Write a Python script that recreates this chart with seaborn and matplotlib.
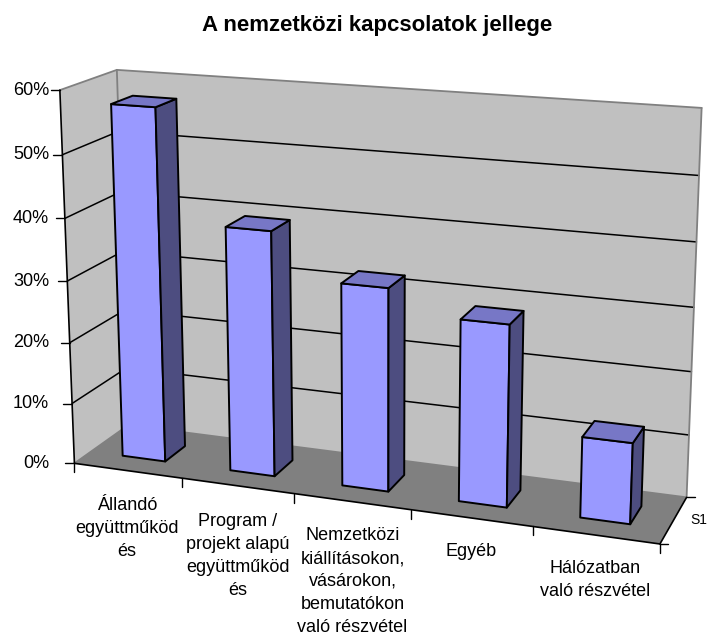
import numpy as np
import pandas as pd
import matplotlib
matplotlib.use("Agg")
import matplotlib.pyplot as plt
from matplotlib.patches import Polygon
import seaborn as sns

title = "A nemzetközi kapcsolatok jellege"
categories = ["Állandó\negyüttműköd\nés", "Program /\nprojekt alapú\negyüttműköd\nés",
              "Nemzetközi\nkiállításokon,\nvásárokon,\nbemutatókon\nvaló részvétel",
              "Egyéb", "Hálózatban\nvaló részvétel"]
values = [57.2, 39.4, 32.3, 28.6, 12.6]
value_ticks = [0, 10, 20, 30, 40, 50, 60]
value_tick_labels = ["0%", "10%", "20%", "30%", "40%", "50%", "60%"]
series_name = "S1"

# camera calibration: (category position, value, depth) -> pixel
calib_world = np.array([[0, 0, 0], [0, 60, 0], [0, 0, 1], [0, 60, 1], [5, 0, 1], [5, 60, 1],
                        [5, 0, 0], [1, 0, 0], [2, 0, 0], [3, 0, 0], [4, 0, 0], [5, 50, 1]], float)
calib_px = np.array([[73.5, 463], [60.7, 90], [129, 425], [116, 70], [686.7, 497.3], [702.3, 107.7],
                     [660, 543], [182.7, 478], [294.3, 494], [411, 510.5], [533, 527], [698.3, 175.7]], float)

def fit_camera(W, X):
    rows = []
    for (a, b, c), (x, y) in zip(W, X):
        rows.append([a, b, c, 1, 0, 0, 0, 0, -x*a, -x*b, -x*c, -x])
        rows.append([0, 0, 0, 0, a, b, c, 1, -y*a, -y*b, -y*c, -y])
    return np.linalg.svd(np.array(rows))[2][-1].reshape(3, 4)

P = fit_camera(calib_world, calib_px)

def proj(u, v, w):
    h = P @ np.array([u, v, w, 1.0])
    return h[:2] / h[2]

sns.set_theme(style="white")
plt.rcParams["font.family"] = ["Liberation Sans", "DejaVu Sans"]

fig = plt.figure(figsize=(7.08, 6.37), dpi=100)
# seaborn computes the bar geometry on a hidden helper axes
helper = fig.add_axes([0, 0, 1, 1])
df = pd.DataFrame({"cat": categories, "val": values})
sns.barplot(data=df, x="cat", y="val", width=0.4, ax=helper)
rects = [(p.get_x() + 0.5, p.get_width(), p.get_height()) for p in helper.patches]
helper.set_visible(False)

ax = fig.add_axes([0, 0, 1, 1])
ax.set_xlim(0, 708)
ax.set_ylim(637, 0)
ax.axis("off")

WALL, FLOOR, EDGE = "#c0c0c0", "#808080", "#808080"
FRONT, TOP, SIDE = "#9999ff", "#7777c6", "#4d4d80"
vmax = value_ticks[-1]
umax = len(categories)

def poly(pts, fc, ec="none", lw=0, z=1):
    ax.add_patch(Polygon([proj(*p) for p in pts], closed=True, fc=fc, ec=ec, lw=lw, zorder=z, joinstyle="round"))

def line(a, b, c="black", lw=1.0, z=2):
    pa, pb = proj(*a), proj(*b)
    ax.plot([pa[0], pb[0]], [pa[1], pb[1]], color=c, lw=lw, zorder=z, solid_capstyle="round")

poly([(0, 0, 0), (0, vmax, 0), (0, vmax, 1), (0, 0, 1)], WALL, z=1)
poly([(0, 0, 1), (0, vmax, 1), (umax, vmax, 1), (umax, 0, 1)], WALL, z=1)
poly([(0, 0, 0), (0, 0, 1), (umax, 0, 1), (umax, 0, 0)], FLOOR, z=1)

for v in value_ticks[1:-1]:
    line((0, v, 0), (0, v, 1), lw=1.1)
    line((0, v, 1), (umax, v, 1), lw=1.1)
line((0, vmax, 0), (0, vmax, 1), EDGE, 1.3)
line((0, vmax, 1), (umax, vmax, 1), EDGE, 1.3)
line((0, 0, 1), (0, vmax, 1), EDGE, 1.3)
line((umax, 0, 1), (umax, vmax, 1), EDGE, 1.3)
line((0, 0, 1), (umax, 0, 1), EDGE, 1.3)
line((0, 0, 0), (0, 0, 1), EDGE, 1.3)
line((0, 0, 0), (0, vmax, 0), "black", 1.2, 3)
line((0, 0, 0), (umax, 0, 0), "black", 1.2, 3)
line((umax, 0, 0), (umax, 0, 1), "black", 1.2, 3)

# axis ticks and labels
for v, lab in zip(value_ticks, value_tick_labels):
    x, y = proj(0, v, 0)
    ax.plot([x - 9, x], [y, y], color="black", lw=1.0, zorder=3)
    ax.text(49, y, lab, ha="right", va="center", fontsize=13, color="black")
for i in range(umax + 1):
    x, y = proj(i, 0, 0)
    ax.plot([x, x], [y, y + 9], color="black", lw=1.0, zorder=3)
label_pos = [(127, 510), (238, 525.7), (352.5, 540), (471, 556), (595.5, 573.3)]
for lab, (x, y) in zip(categories, label_pos):
    for k, part in enumerate(lab.split("\n")):
        ax.text(x, y + k * 23.0, part, ha="center", va="baseline", fontsize=13, color="black")
for w in (0, 1):
    x, y = proj(umax, 0, w)
    ax.plot([x, x + 8], [y, y], color="black", lw=1.0, zorder=3)
ax.text(690.5, 520, series_name, ha="left", va="center", fontsize=10, color="black")

# bars
D0, D1 = 0.30, 0.69
for (u0, wd, h) in rects:
    u1 = u0 + wd
    poly([(u0, 0, D0), (u0, h, D0), (u1, h, D0), (u1, 0, D0)], FRONT, "black", 1.4, 5)
    poly([(u1, 0, D0), (u1, h, D0), (u1, h, D1), (u1, 0, D1)], SIDE, "black", 1.4, 5)
    poly([(u0, h, D0), (u0, h, D1), (u1, h, D1), (u1, h, D0)], TOP, "black", 1.4, 5)

ax.text(377, 26, title, ha="center", va="center", fontsize=16, fontweight="bold", color="black")

fig.savefig("out.png", dpi=100, facecolor="white")
